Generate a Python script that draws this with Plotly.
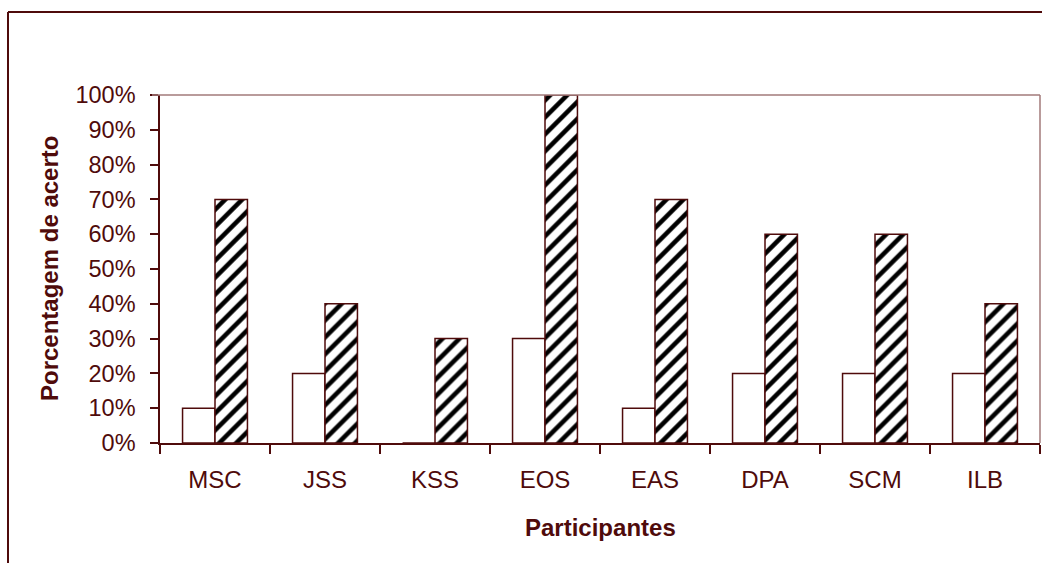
import plotly.graph_objects as go

# Participants and percentage of correct answers for each condition
participantes = ["MSC", "JSS", "KSS", "EOS", "EAS", "DPA", "SCM", "ILB"]
acerto_serie1 = [10, 20, 0, 30, 10, 20, 20, 20]
acerto_serie2 = [70, 40, 30, 100, 70, 60, 60, 40]
ticks_y = list(range(0, 101, 10))
ticks_y_text = [f"{v}%" for v in ticks_y]

MAROON = "#4f0b0b"
LIGHT_MAROON = "#a27a7a"
FONT = "Liberation Sans, Arial, sans-serif"

W, H = 1042, 563
L, R, T, B = 160, 2, 95, 120
pw, ph = W - L - R, H - T - B


def px(x):
    return (x - L) / pw


def py(y):
    return (H - B - y) / ph


fig = go.Figure()
fig.add_trace(go.Bar(
    x=participantes, y=acerto_serie1,
    marker=dict(color="white", line=dict(color=MAROON, width=1.5)),
    showlegend=False,
))
fig.add_trace(go.Bar(
    x=participantes, y=acerto_serie2,
    marker=dict(
        color="white",
        line=dict(color=MAROON, width=1.5),
        pattern=dict(shape="/", fgcolor="black", bgcolor="white", fgopacity=1,
                     size=12, solidity=0.38, fillmode="replace"),
    ),
    showlegend=False,
))

fig.update_layout(
    width=W, height=H,
    margin=dict(l=L, r=R, t=T, b=B),
    paper_bgcolor="white", plot_bgcolor="white",
    barmode="group", bargap=0.41, bargroupgap=0,
    font=dict(family=FONT, color=MAROON),
    shapes=[
        # plot-area frame (top and right edges)
        dict(type="line", xref="paper", yref="paper", x0=px(152), x1=1, y0=1, y1=1,
             line=dict(color=LIGHT_MAROON, width=1.5)),
        dict(type="line", xref="paper", yref="paper", x0=1, x1=1, y0=0, y1=1,
             line=dict(color=LIGHT_MAROON, width=1.5)),
        # outer chart frame
        dict(type="line", xref="paper", yref="paper", x0=px(8), x1=px(1060),
             y0=py(12), y1=py(12), line=dict(color=MAROON, width=2)),
        dict(type="line", xref="paper", yref="paper", x0=px(8), x1=px(8),
             y0=py(12), y1=py(600), line=dict(color=MAROON, width=2)),
    ],
    annotations=[
        dict(text="<b>Porcentagem de acerto</b>", xref="paper", yref="paper",
             x=px(49), y=0.5, textangle=-90, showarrow=False,
             xanchor="center", yanchor="middle",
             font=dict(family=FONT, size=24, color=MAROON)),
        dict(text="<b>Participantes</b>", xref="paper", yref="paper",
             x=0.5, y=py(527), showarrow=False,
             xanchor="center", yanchor="middle",
             font=dict(family=FONT, size=24, color=MAROON)),
    ],
)

fig.update_yaxes(
    range=[0, 100], tickvals=ticks_y, ticktext=ticks_y_text,
    showgrid=False, zeroline=False,
    showline=True, linecolor=MAROON, linewidth=1.5,
    ticks="outside", ticklen=8, tickcolor=MAROON, tickwidth=1.5,
    ticklabelstandoff=10,
    tickfont=dict(family=FONT, size=23.5, color=MAROON),
)
fig.update_xaxes(
    showgrid=False, zeroline=False,
    showline=True, linecolor=MAROON, linewidth=1.5,
    ticks="outside", tickson="boundaries", ticklen=9, tickcolor=MAROON, tickwidth=1.5,
    ticklabelstandoff=14,
    tickfont=dict(family=FONT, size=24, color=MAROON),
)

fig.write_html("out.html")
